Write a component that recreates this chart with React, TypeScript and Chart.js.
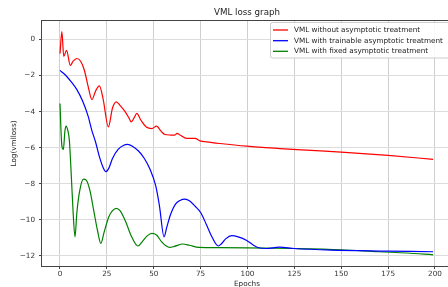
import React, { useEffect, useRef } from "react";
import { Chart, registerables } from "chart.js";

Chart.register(...registerables);

const chartTitle = "VML loss graph";
const xAxisTitle = "Epochs";
const yAxisTitle = "Log(vmlloss)";

const seriesNames = [
  "VML without asymptotic treatment",
  "VML with trainable asymptotic treatment",
  "VML with fixed asymptotic treatment",
];
const seriesColors = ["#ff0000", "#0000ff", "#008000"];

const xTicks = [0, 25, 50, 75, 100, 125, 150, 175, 200];
const yTicks = [0, -2, -4, -6, -8, -10, -12];
const yTickLabels = ["0", "\u22122", "\u22124", "\u22126", "\u22128", "\u221210", "\u221212"];

// red: without asymptotic treatment
const redEpochs = [0, 1, 2, 3.5, 5.5, 7, 9, 11, 13, 15, 17, 19, 21, 23, 25.8, 28, 30, 32, 34.7, 36.5, 38, 39.5, 41, 43, 46, 49, 51.5, 54, 56, 59, 61, 62.5, 64, 67.6, 72, 74.7, 78.2, 85.3, 99.6, 117.3, 131.6, 150, 175, 199];
const redLoss = [-0.78, 0.45, -0.93, -0.6, -1.43, -1.2, -1.05, -1.2, -1.7, -2.6, -3.33, -2.85, -2.57, -3.3, -4.85, -3.8, -3.46, -3.65, -4.0, -4.3, -4.57, -4.35, -4.1, -4.45, -4.85, -4.94, -4.81, -5.1, -5.27, -5.3, -5.31, -5.21, -5.3, -5.49, -5.49, -5.62, -5.68, -5.77, -5.92, -6.05, -6.14, -6.25, -6.43, -6.65];

// blue: trainable asymptotic treatment
const blueEpochs = [0, 3, 6, 9, 12, 15, 17, 19, 21, 23, 24.5, 26, 28, 31, 34, 36, 39, 42, 45, 48, 51, 53, 55.5, 57, 59, 61.5, 64, 66.7, 69, 72, 75, 78, 81, 84.4, 86, 88.5, 91.6, 95, 99.6, 103, 106, 110, 117, 125, 145, 175, 199];
const blueLoss = [-1.71, -1.98, -2.35, -2.78, -3.4, -4.25, -5.05, -5.7, -6.5, -7.1, -7.33, -7.15, -6.6, -6.1, -5.87, -5.82, -5.95, -6.2, -6.6, -7.2, -8.1, -9.2, -10.95, -10.4, -9.7, -9.15, -8.93, -8.86, -8.95, -9.25, -9.6, -10.25, -10.95, -11.46, -11.35, -11.05, -10.89, -10.95, -11.15, -11.4, -11.56, -11.6, -11.52, -11.6, -11.69, -11.74, -11.78];

// green: fixed asymptotic treatment
const greenEpochs = [0, 0.5, 1, 1.8, 2.6, 3.2, 4.3, 5, 6, 7, 8, 9, 10.5, 12.5, 14, 16, 18, 20, 21.8, 23.5, 26, 28, 30, 32, 35, 38, 41.6, 44, 46.5, 49, 51.5, 54, 56.5, 58.5, 61, 65.5, 69, 74, 85, 100, 125, 150, 170, 185, 199];
const greenLoss = [-3.55, -5.0, -5.9, -6.1, -5.1, -4.8, -5.1, -5.6, -7.5, -9.6, -10.95, -9.6, -8.4, -7.75, -7.8, -8.4, -9.5, -10.6, -11.32, -10.7, -9.85, -9.5, -9.37, -9.5, -10.1, -10.9, -11.46, -11.2, -10.9, -10.76, -10.85, -11.2, -11.45, -11.54, -11.48, -11.35, -11.42, -11.54, -11.55, -11.56, -11.6, -11.67, -11.78, -11.85, -11.95];

const FONT = "DejaVu Sans";
const TICK_SIZE = 7.25;

const toPoints = (xs: number[], ys: number[]) => xs.map((x, i) => ({ x, y: ys[i] }));

const overlayPlugin = {
  id: "overlay",
  afterDraw(chart: any) {
    const { ctx, chartArea: a } = chart;
    ctx.save();
    // spines
    ctx.strokeStyle = "#444444";
    ctx.lineWidth = 1;
    ctx.strokeRect(a.left - 0.5, a.top - 0.5, a.right - a.left + 1, a.bottom - a.top + 1);

    // title
    ctx.fillStyle = "#222222";
    ctx.font = `8.7px "${FONT}"`;
    ctx.textAlign = "center";
    ctx.textBaseline = "middle";
    ctx.fillText(chartTitle, (a.left + a.right) / 2, 12.7);

    // legend
    const lx = 270.5, ly = 22.5, lw = 200, lh = 35.5;
    ctx.beginPath();
    if (ctx.roundRect) ctx.roundRect(lx, ly, lw, lh, 2);
    else ctx.rect(lx, ly, lw, lh);
    ctx.fillStyle = "rgba(255,255,255,0.85)";
    ctx.fill();
    ctx.strokeStyle = "#cccccc";
    ctx.lineWidth = 1;
    ctx.stroke();
    const rows = [30, 40.7, 51.3];
    ctx.font = `${TICK_SIZE}px "${FONT}"`;
    ctx.textAlign = "left";
    ctx.textBaseline = "middle";
    chart.data.datasets.forEach((ds: any, i: number) => {
      ctx.strokeStyle = ds.borderColor;
      ctx.lineWidth = 1.3;
      ctx.beginPath();
      ctx.moveTo(273, rows[i]);
      ctx.lineTo(288, rows[i]);
      ctx.stroke();
      ctx.fillStyle = "#222222";
      ctx.fillText(ds.label, 294, rows[i]);
    });
    ctx.restore();
  },
};

export default function App() {
  const ref = useRef<HTMLCanvasElement | null>(null);
  useEffect(() => {
    if (!ref.current) return;
    Chart.defaults.font.family = FONT;
    const chart = new Chart(ref.current, {
      type: "line",
      data: {
        datasets: [
          { label: seriesNames[0], data: toPoints(redEpochs, redLoss), borderColor: seriesColors[0] },
          { label: seriesNames[1], data: toPoints(blueEpochs, blueLoss), borderColor: seriesColors[1] },
          { label: seriesNames[2], data: toPoints(greenEpochs, greenLoss), borderColor: seriesColors[2] },
        ].map((d) => ({
          ...d,
          borderWidth: 1.2,
          pointRadius: 0,
          fill: false,
          cubicInterpolationMode: "monotone" as const,
        })),
      },
      options: {
        responsive: false,
        animation: false,
        devicePixelRatio: 1,
        layout: { padding: { left: 0, top: 21, right: 18, bottom: 0 } },
        plugins: { legend: { display: false }, title: { display: false }, tooltip: { enabled: false } },
        scales: {
          x: {
            type: "linear",
            min: -9.6,
            max: 209.07,
            afterBuildTicks: (s: any) => {
              s.ticks = xTicks.map((v) => ({ value: v }));
            },
            afterFit: (s: any) => {
              s.height = 26;
            },
            grid: { color: "#cfcfcf", lineWidth: 1, tickLength: 3, tickColor: "#444444" },
            border: { display: false },
            ticks: {
              autoSkip: false,
              maxRotation: 0,
              padding: 1,
              color: "#333333",
              font: { size: TICK_SIZE, family: FONT },
              callback: (v: any) => String(v),
            },
            title: {
              display: true,
              text: xAxisTitle,
              color: "#222222",
              font: { size: TICK_SIZE, family: FONT },
              padding: { top: 0, bottom: 3.65 },
            },
          },
          y: {
            type: "linear",
            min: -12.571,
            max: 1.032,
            afterBuildTicks: (s: any) => {
              s.ticks = yTicks.map((v) => ({ value: v }));
            },
            afterFit: (s: any) => {
              s.width = 42;
            },
            grid: { color: "#dcdcdc", lineWidth: 1, tickLength: 3, tickColor: "#444444" },
            border: { display: false },
            ticks: {
              autoSkip: false,
              padding: 4,
              color: "#333333",
              font: { size: TICK_SIZE, family: FONT },
              callback: (v: any) => {
                const i = yTicks.indexOf(Number(v));
                return i >= 0 ? yTickLabels[i] : "";
              },
            },
            title: {
              display: true,
              text: yAxisTitle,
              color: "#222222",
              font: { size: TICK_SIZE, family: FONT },
              padding: { top: 10, bottom: 0 },
            },
          },
        },
      },
      plugins: [overlayPlugin],
    });
    return () => chart.destroy();
  }, []);

  return (
    <div
      style={{
        position: "fixed",
        left: 0,
        top: 0,
        width: 448,
        height: 287,
        overflow: "hidden",
        background: "#ffffff",
      }}
    >
      <canvas ref={ref} width={470} height={292} style={{ display: "block", width: 470, height: 292 }} />
    </div>
  );
}
